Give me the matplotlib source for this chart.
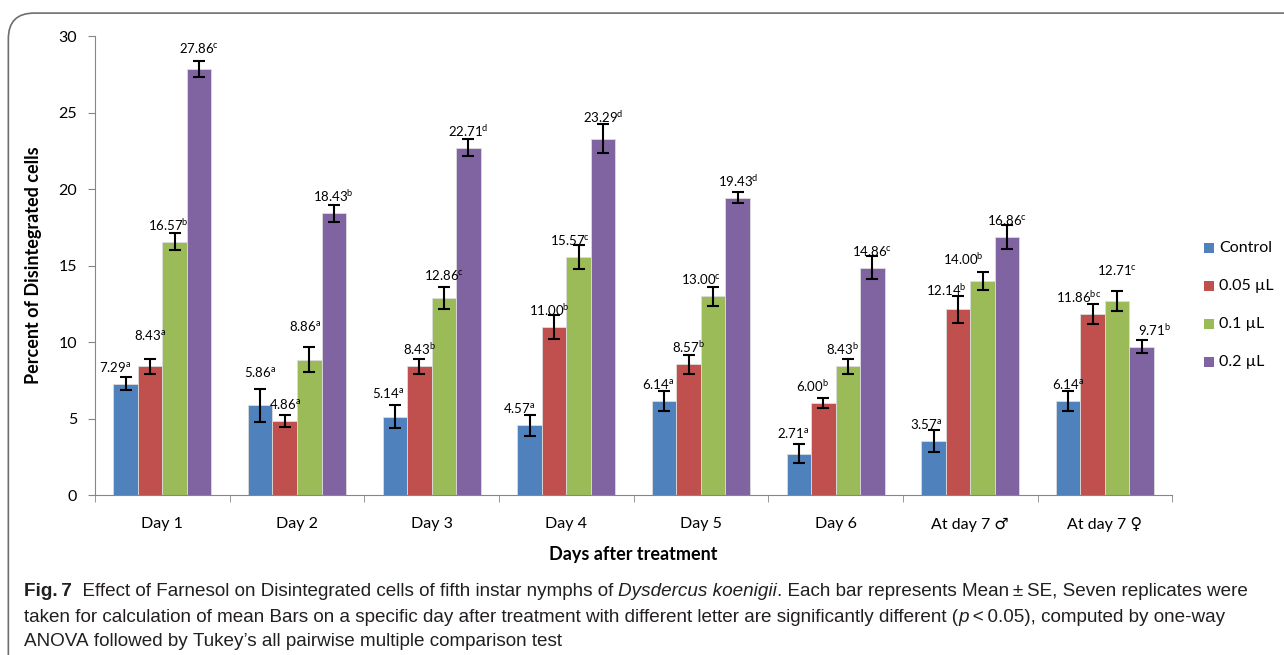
import numpy as np
import matplotlib.pyplot as plt
from matplotlib.patches import FancyBboxPatch, Rectangle

plt.rcParams['font.family'] = ['Lato', 'DejaVu Sans']
plt.rcParams['mathtext.fontset'] = 'custom'
plt.rcParams['mathtext.rm'] = 'Lato'
plt.rcParams['mathtext.it'] = 'Lato:italic'

days = ["Day 1", "Day 2", "Day 3", "Day 4", "Day 5", "Day 6",
        "At day 7 \u2642", "At day 7 \u2640"]
doses = ["Control", "0.05 \u00b5L", "0.1 \u00b5L", "0.2 \u00b5L"]
colors = ["#4F81BD", "#C0504D", "#9BBB59", "#8064A2"]

control = [7.29, 5.86, 5.14, 4.57, 6.14, 2.71, 3.57, 6.14]
dose_005 = [8.43, 4.86, 8.43, 11.00, 8.57, 6.00, 12.14, 11.86]
dose_01 = [16.57, 8.86, 12.86, 15.57, 13.00, 8.43, 14.00, 12.71]
dose_02 = [27.86, 18.43, 22.71, 23.29, 19.43, 14.86, 16.86, 9.71]

se_control = [0.45, 1.05, 0.75, 0.70, 0.65, 0.62, 0.72, 0.65]
se_005 = [0.50, 0.40, 0.50, 0.80, 0.62, 0.33, 0.87, 0.65]
se_01 = [0.55, 0.80, 0.72, 0.78, 0.62, 0.50, 0.57, 0.65]
se_02 = [0.52, 0.55, 0.55, 0.93, 0.36, 0.75, 0.77, 0.45]

let_control = ["a", "a", "a", "a", "a", "a", "a", "a"]
let_005 = ["a", "a", "b", "b", "b", "b", "b", "bc"]
let_01 = ["b", "a", "c", "c", "c", "b", "b", "c"]
let_02 = ["c", "b", "d", "d", "d", "c", "c", "b"]

means = [control, dose_005, dose_01, dose_02]
errs = [se_control, se_005, se_01, se_02]
letters = [let_control, let_005, let_01, let_02]

# hand-moved value labels: (series, day) -> (dx, dy) in pixels
nudge = {
    (0, 0): (-10, 0), (1, 0): (0, 14), (2, 0): (-6, 0), (3, 0): (0, 4),
    (0, 1): (0, 16), (2, 1): (-4, 17),
    (0, 2): (-7, 7), (2, 2): (0, 6),
    (0, 3): (-10, 0), (1, 3): (-5, 0), (2, 3): (-8, 0), (3, 3): (0, 5),
    (0, 4): (-6, 0), (2, 4): (-12, 0),
    (0, 5): (-6, 4), (1, 5): (-11, 0), (2, 5): (-5, 0),
    (0, 6): (-7, 0), (1, 6): (-12, 2), (2, 6): (-19, 5),
    (1, 7): (-14, 0), (2, 7): (0, 14), (3, 7): (13, 0),
}

fig = plt.figure(figsize=(12.84, 6.55), dpi=100)
W, H = fig.bbox.width, fig.bbox.height
ax = fig.add_axes([0.074, 0.244, 0.839, 0.701])

x = np.arange(len(days))
w = 0.182
px = 0.72  # points per pixel at 100 dpi
for i in range(4):
    pos = x + (i - 1.5) * w
    ax.bar(pos, means[i], w, color=colors[i], edgecolor="#dcdcdc",
           linewidth=0.6, label=doses[i], zorder=2)
    ax.errorbar(pos, means[i], yerr=errs[i], fmt="none", ecolor="black",
                elinewidth=1.5, capsize=4, capthick=1.5, zorder=3)
    for j, (p, m, l) in enumerate(zip(pos, means[i], letters[i])):
        dx, dy = nudge.get((i, j), (0, 0))
        ax.annotate(f"{m:.2f}$^{{\\mathrm{{{l}}}}}$", (p, m),
                    xytext=(dx * px, (17 + dy) * px), textcoords="offset points",
                    ha="center", va="center", fontsize=9.5, zorder=4)

ax.set_xlim(-0.5, len(days) - 0.5)
ax.set_ylim(0, 30)
ax.set_yticks(range(0, 31, 5))
ax.set_xticks(x)
ax.set_xticklabels(days, fontsize=11.5)
ax.set_xticks(np.arange(-0.5, len(days), 1), minor=True)
ax.tick_params(axis="x", which="major", length=0, pad=16)
ax.tick_params(axis="x", which="minor", length=5, color="#868686", direction="out")
ax.tick_params(axis="y", labelsize=11.5, length=5, color="#868686", pad=8)
for s in ["top", "right"]:
    ax.spines[s].set_visible(False)
for s in ["left", "bottom"]:
    ax.spines[s].set_color("#868686")

ax.set_xlabel("Days after treatment", fontsize=13, fontweight="bold", labelpad=10)
ax.set_ylabel("Percent of Disintegrated cells", fontsize=13, fontweight="bold", labelpad=12)

# legend: colour squares with labels, one row every 38 px
for k, (name, c) in enumerate(zip(doses, colors)):
    yc = 248 + 38 * k
    fig.patches.append(Rectangle((1204 / W, 1 - (yc + 5) / H), 10 / W, 10 / H,
                                 transform=fig.transFigure, facecolor=c,
                                 edgecolor="none"))
    fig.text(1219 / W, 1 - yc / H, name, fontsize=11.5, va="center", ha="left")

# rounded frame around the figure and caption
frame = FancyBboxPatch((0.0065, -0.2), 1.2, 1.18, transform=fig.transFigure,
                       boxstyle="round,pad=0,rounding_size=0.02",
                       fill=False, edgecolor="#6e6e6e", linewidth=1.2,
                       mutation_aspect=1.96)
fig.patches.append(frame)

# caption, written as runs of plain / bold / italic text
cap_font = ["Liberation Sans", "DejaVu Sans"]
cap_size = 13.6
plain = {}
bold = {"fontweight": "bold"}
ital = {"style": "italic"}
cap_lines = [
    (592, [("Fig.\u20097", bold),
           ("  Effect of Farnesol on Disintegrated cells of fifth instar nymphs of ", plain),
           ("Dysdercus koenigii", ital),
           (". Each bar represents Mean\u2009\u00b1\u2009SE, Seven replicates were", plain)]),
    (617, [("taken for calculation of mean Bars on a specific day after treatment with "
            "different letter are significantly different (", plain),
           ("p", ital),
           ("\u2009<\u20090.05), computed by one-way", plain)]),
    (641, [("ANOVA followed by Tukey\u2019s all pairwise multiple comparison test", plain)]),
]
renderer = fig.canvas.get_renderer()
for ypix, runs in cap_lines:
    xpix = 24
    for txt, kw in runs:
        t = fig.text(xpix / W, 1 - ypix / H, txt.replace(" ", "\u00a0"),
                     fontsize=cap_size, family=cap_font, color="#231f20",
                     va="center", ha="left", **kw)
        xpix += t.get_window_extent(renderer).width

fig.savefig("out.png", dpi=100)
